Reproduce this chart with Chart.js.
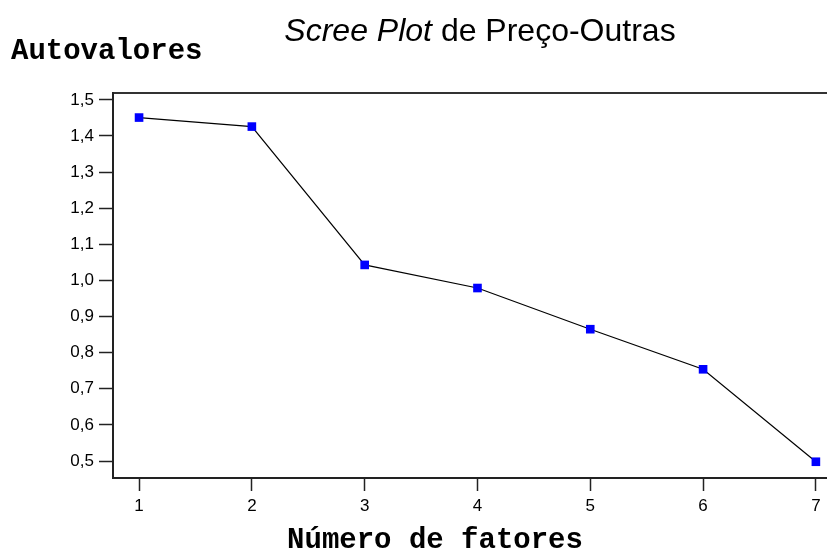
<!DOCTYPE html>
<html>
<head>
<meta charset="utf-8">
<script src="https://cdn.jsdelivr.net/npm/chart.js@4"></script>
<style>
  html, body { margin: 0; padding: 0; background: #fff; overflow: hidden; }
  canvas { display: block; }
</style>
</head>
<body>
<canvas id="myChart" width="860" height="551"></canvas>
<script>
  // Data
  const fatores = [1, 2, 3, 4, 5, 6, 7]
  const autovalores = [1.451, 1.426, 1.043, 0.979, 0.865, 0.754, 0.498]
  const yTicks = [0.5, 0.6, 0.7, 0.8, 0.9, 1.0, 1.1, 1.2, 1.3, 1.4, 1.5]
  const xTicks = [1, 2, 3, 4, 5, 6, 7]

  const sans = '"Liberation Sans", Arial, sans-serif'
  const mono = '"Liberation Mono", "Courier New", monospace'

  // titles drawn by hand: mixed italic title, unrotated y label at top-left
  const textPlugin = {
    id: 'sceneText',
    afterDraw (chart) {
      const c = chart.ctx
      c.save()
      c.fillStyle = '#000'
      c.textBaseline = 'alphabetic'

      const parts = [
        { text: 'Scree Plot', font: 'italic 32px ' + sans },
        { text: ' de Preço-Outras', font: '32px ' + sans }
      ]
      let total = 0
      parts.forEach(p => { c.font = p.font; p.w = c.measureText(p.text).width; total += p.w })
      let x = 480 - total / 2
      parts.forEach(p => { c.font = p.font; c.textAlign = 'left'; c.fillText(p.text, x, 41); x += p.w })

      c.font = 'bold 29px ' + mono
      c.textAlign = 'left'
      c.fillText('Autovalores', 11, 59)

      c.textAlign = 'center'
      c.fillText('Número de fatores', 435, 548)
      c.restore()
    }
  }

  const ctx = document.getElementById('myChart')
  new Chart(ctx, {
    type: 'line',
    data: {
      labels: fatores,
      datasets: [{
        data: fatores.map((f, i) => ({ x: f, y: autovalores[i] })),
        borderColor: '#000',
        borderWidth: 1.2,
        pointStyle: 'rect',
        pointRadius: 6.1,
        pointBackgroundColor: '#0000ff',
        pointBorderColor: '#0000ff',
        pointBorderWidth: 0,
        tension: 0,
        clip: false
      }]
    },
    options: {
      responsive: false,
      animation: false,
      layout: { padding: { top: 93, left: 0, right: 0, bottom: 0 } },
      plugins: {
        legend: { display: false },
        tooltip: { enabled: false }
      },
      scales: {
        x: {
          type: 'linear',
          position: 'bottom',
          min: 0.769,
          max: 7.337,
          afterBuildTicks: s => { s.ticks = xTicks.map(v => ({ value: v })) },
          afterFit: s => { s.height = 73 },
          border: { display: true, color: '#222', width: 2 },
          grid: { display: true, drawOnChartArea: false, drawTicks: true, tickLength: 13, tickColor: '#222', tickWidth: 1.5 },
          ticks: { color: '#000', padding: 5, font: { family: sans, size: 17 }, maxRotation: 0 }
        },
        xTop: {
          type: 'linear',
          position: 'top',
          min: 0.769,
          max: 7.337,
          border: { display: true, color: '#333', width: 2 },
          grid: { display: false, drawTicks: false },
          ticks: { display: false }
        },
        y: {
          type: 'linear',
          min: 0.453,
          max: 1.519,
          afterBuildTicks: s => { s.ticks = yTicks.map(v => ({ value: v })) },
          afterFit: s => { s.width = 113 },
          border: { display: true, color: '#222', width: 2 },
          grid: { display: true, drawOnChartArea: false, drawTicks: true, tickLength: 14, tickColor: '#222', tickWidth: 1.5 },
          ticks: {
            color: '#000',
            padding: 5,
            font: { family: sans, size: 17 },
            callback: v => v.toFixed(1).replace('.', ',')
          }
        }
      }
    },
    plugins: [textPlugin]
  })
</script>
</body>
</html>
